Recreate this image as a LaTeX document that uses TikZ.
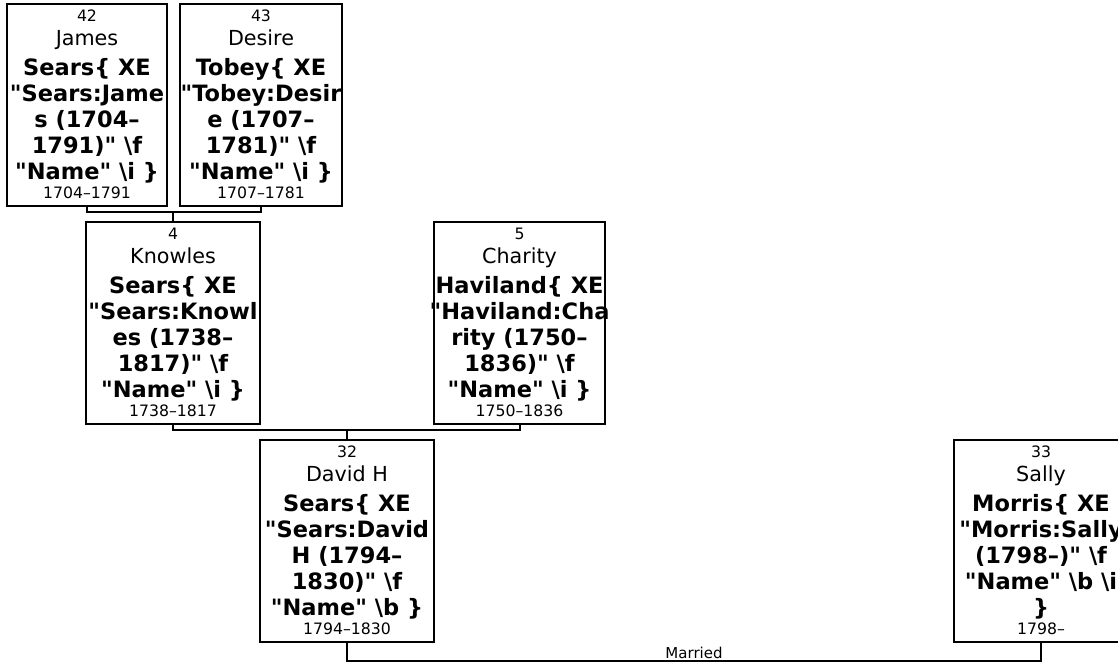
\documentclass[tikz,border=0pt]{standalone}
\usepackage{fontspec}
\setmainfont{DejaVu Sans}[Ligatures=TeXOff]
\newcommand\smfont{\fontsize{15.7}{19}\selectfont\mdseries}
\newcommand\rgfont{\fontsize{20.7}{24}\selectfont\mdseries}
\newcommand\bdfont{\fontsize{22.5}{26}\selectfont\bfseries}
\newcommand\bsl{\textbackslash}
\tikzset{
  person/.style={draw, line width=2pt, minimum height=202pt, inner sep=0pt},
  ptext/.style={anchor=north, align=center, inner sep=0pt, font=\bdfont},
  link/.style={line width=2pt},
  mlabel/.style={font=\fontsize{15}{18}\selectfont\mdseries, above, inner sep=1pt}
}
\begin{document}
\begin{tikzpicture}[x=1pt,y=-1pt]
\useasboundingbox (0,0) rectangle (1118,663);
% boxes
\node[person, minimum width=160pt] (n42) at (87,105) {};
\node[person, minimum width=162pt] (n43) at (261,105) {};
\node[person, minimum width=174pt] (n4) at (173,323) {};
\node[person, minimum width=171pt] (n5) at (519.5,323) {};
\node[person, minimum width=174pt] (n32) at (347,541) {};
\node[person, minimum width=174pt] (n33) at (1041,541) {};
% texts
\node[ptext] (t42) at ([yshift=-6.6pt]n42.north) {{\smfont 42}\\[-1.5pt]{\rgfont James}\\[3.5pt]Sears\{ XE\\"Sears:Jame\\s (1704–\\1791)" \bsl f\\"Name" \bsl i \}\\[-7pt]{\smfont 1704–1791}};
\node[ptext] (t43) at ([yshift=-6.6pt]n43.north) {{\smfont 43}\\[-1.5pt]{\rgfont Desire}\\[3.5pt]Tobey\{ XE\\"Tobey:Desir\\e (1707–\\1781)" \bsl f\\"Name" \bsl i \}\\[-7pt]{\smfont 1707–1781}};
\node[ptext] (t4) at ([yshift=-6.6pt]n4.north) {{\smfont 4}\\[-1.5pt]{\rgfont Knowles}\\[3.5pt]Sears\{ XE\\"Sears:Knowl\\es (1738–\\1817)" \bsl f\\"Name" \bsl i \}\\[-7pt]{\smfont 1738–1817}};
\node[ptext] (t5) at ([yshift=-6.6pt]n5.north) {{\smfont 5}\\[-1.5pt]{\rgfont Charity}\\[3.5pt]Haviland\{ XE\\"Haviland:Cha\\rity (1750–\\1836)" \bsl f\\"Name" \bsl i \}\\[-7pt]{\smfont 1750–1836}};
\node[ptext] (t32) at ([yshift=-6.6pt]n32.north) {{\smfont 32}\\[-1.5pt]{\rgfont David H}\\[3.5pt]Sears\{ XE\\"Sears:David\\H (1794–\\1830)" \bsl f\\"Name" \bsl b \}\\[-7pt]{\smfont 1794–1830}};
\node[ptext] (t33) at ([yshift=-6.6pt]n33.north) {{\smfont 33}\\[-1.5pt]{\rgfont Sally}\\[3.5pt]Morris\{ XE\\"Morris:Sally\\(1798–)" \bsl f\\"Name" \bsl b \bsl i\\\}\\[-7pt]{\smfont 1798–}};
% connectors
\coordinate (j1) at (173,212);
\draw[link] (n42.south) |- (j1) -| (n43.south);
\draw[link] (j1) -- (n4.north);
\coordinate (j2) at (347,430);
\draw[link] (n4.south) |- (j2) -| (n5.south);
\draw[link] (j2) -- (n32.north);
\coordinate (j3) at (347,661);
\draw[link] (n32.south) -- (j3) -| node[mlabel, pos=0.25] (mar) {Married} (n33.south);
\end{tikzpicture}
\end{document}
